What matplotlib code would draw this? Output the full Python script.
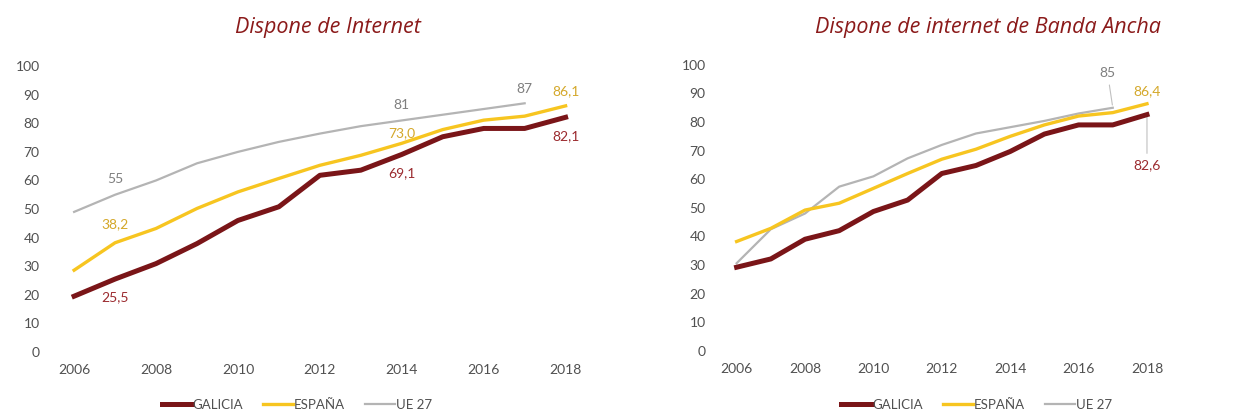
import matplotlib.pyplot as plt

plt.rcParams['font.family'] = ['Lato', 'DejaVu Sans']

years = list(range(2006, 2019))
years_ue = list(range(2006, 2018))

# Dispone de Internet
galicia_int = [19.5, 25.5, 30.9, 37.9, 46.0, 50.8, 61.8, 63.6, 69.1, 75.3, 78.2, 78.2, 82.1]
espana_int = [28.6, 38.2, 43.2, 50.2, 56.0, 60.7, 65.3, 68.8, 73.0, 77.8, 81.1, 82.5, 86.1]
ue_int = [49, 55, 60, 66, 70, 73.5, 76.4, 79, 81, 83, 85, 87]

# Dispone de internet de Banda Ancha
galicia_ba = [29.2, 32.1, 39.0, 42.0, 48.7, 52.7, 62.0, 64.8, 69.7, 75.8, 79.0, 79.0, 82.6]
espana_ba = [38.2, 42.8, 49.2, 51.6, 56.8, 62.0, 67.0, 70.5, 75.0, 79.0, 82.1, 83.3, 86.4]
ue_ba = [30.6, 42.5, 48, 57.4, 61, 67.3, 72, 76, 78.2, 80.4, 83, 85]

c_gal = '#7a1518'
c_esp = '#f7c520'
c_ue = '#b4b4b4'
c_title = '#8b1a1a'
c_tick = '#505050'

fig = plt.figure(figsize=(12.47, 4.16), dpi=100)
ax1 = fig.add_axes([0.043, 0.154, 0.427, 0.687])
ax2 = fig.add_axes([0.577, 0.157, 0.3565, 0.687])


def draw(ax, gal, esp, ue):
    ax.plot(years_ue, ue, color=c_ue, lw=1.6, label='UE 27', zorder=2)
    ax.plot(years, esp, color=c_esp, lw=2.4, label='ESPAÑA', zorder=3)
    ax.plot(years, gal, color=c_gal, lw=3.6, label='GALICIA', zorder=4)
    ax.set_xlim(2005.5, 2018.5)
    ax.set_ylim(0, 100)
    ax.set_xticks(range(2006, 2019, 2))
    ax.set_yticks(range(0, 101, 10))
    for s in ax.spines.values():
        s.set_visible(False)
    ax.tick_params(length=0, labelsize=10, colors=c_tick)
    ax.tick_params(axis='y', pad=10)
    ax.tick_params(axis='x', pad=9)
    h, l = ax.get_legend_handles_labels()
    order = [2, 1, 0]
    return [h[i] for i in order], [l[i] for i in order]


h, l = draw(ax1, galicia_int, espana_int, ue_int)
draw(ax2, galicia_ba, espana_ba, ue_ba)

title_kw = dict(fontstyle='italic', color=c_title, fontsize=15.5, ha='center',
                va='center', family=['Open Sans', 'DejaVu Sans'])
fig.text(0.263, 0.935, 'Dispone de Internet', **title_kw)
fig.text(0.792, 0.935, 'Dispone de internet de Banda Ancha', **title_kw)

lab = dict(fontsize=10, ha='center', va='center')
# left labels
ax1.text(2007, ue_int[1] + 5.5, '55', color='#7f7f7f', **lab)
ax1.text(2014, ue_int[8] + 5.5, '81', color='#7f7f7f', **lab)
ax1.text(2017, ue_int[11] + 5, '87', color='#7f7f7f', **lab)
ax1.text(2007, espana_int[1] + 6.5, '38,2', color='#d4a82a', **lab)
ax1.text(2014, espana_int[8] + 3.5, '73,0', color='#d4a82a', **lab)
ax1.text(2018, espana_int[12] + 5, '86,1', color='#d4a82a', **lab)
ax1.text(2007, galicia_int[1] - 6.5, '25,5', color='#9b2a2e', **lab)
ax1.text(2014, galicia_int[8] - 6.5, '69,1', color='#9b2a2e', **lab)
ax1.text(2018, galicia_int[12] - 6.5, '82,1', color='#9b2a2e', **lab)

# right labels
ax2.annotate('85', xy=(2017, ue_ba[11]), xytext=(2016.85, 97), color='#7f7f7f',
             arrowprops=dict(arrowstyle='-', color='#c0c0c0', lw=0.8), **lab)
ax2.text(2018, espana_ba[12] + 4.5, '86,4', color='#d4a82a', clip_on=False, **lab)
ax2.annotate('82,6', xy=(2018, galicia_ba[12]), xytext=(2018, 65), color='#9b2a2e',
             arrowprops=dict(arrowstyle='-', color='#c0c0c0', lw=0.8), **lab)

leg_kw = dict(ncol=3, frameon=False, fontsize=9.5, handlelength=2.3,
              handletextpad=0.05, columnspacing=1.5, loc='center')
fig.legend(h, l, bbox_to_anchor=(0.238, 0.027), **leg_kw)
fig.legend(h, l, bbox_to_anchor=(0.783, 0.027), **leg_kw)
for leg in fig.legends:
    for t in leg.get_texts():
        t.set_color(c_tick)

fig.savefig('out.png', dpi=100)
